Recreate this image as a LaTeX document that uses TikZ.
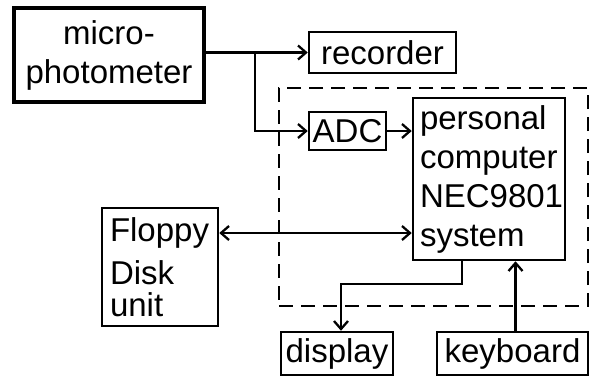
\documentclass[tikz,border=0pt]{standalone}
\usepackage{fontspec}
\setmainfont{Liberation Sans}
\usetikzlibrary{positioning}
\usetikzlibrary{calc}
\usetikzlibrary{arrows.meta}

\tikzset{
  blk/.style={draw, line width=2.5pt, inner sep=0pt, font=\fontsize{33}{39}\selectfont},
}

\begin{document}
\begin{tikzpicture}[x=1pt, y=-1pt, line width=2.3pt,
                    >={Straight Barb[length=8pt, width=14pt]}]
    \useasboundingbox (0,0) rectangle (596,376);

    \node [blk, line width=4.3pt, minimum width=190pt, minimum height=94pt, align=center] (mp) at (109,55) {micro-\\photometer};
    \node [blk, minimum width=147pt, minimum height=41pt] (rec) at (382.5,52.5) {recorder};
    \node [draw, line width=2.6pt, dash pattern=on 14pt off 8pt, minimum width=309pt, minimum height=218pt] (sys) at (433.5,197) { };
    \node [blk, minimum width=77pt, minimum height=38pt] (adc) at (347.5,131) {ADC};
    \node [blk, inner xsep=7pt, text width=138pt, minimum height=162pt, align=left] (pc) at (489,179) {personal\\computer\\NEC9801\\system};
    \node [blk, inner xsep=8pt, text width=100pt, minimum height=118pt, align=left, font=\fontsize{33}{33}\selectfont] (fd) at (160,267) {Floppy\\[10pt]Disk\\[-1pt]unit};
    \node [blk, minimum width=112pt, minimum height=43pt] (disp) at (337,353.5) {display};
    \node [blk, minimum width=151pt, minimum height=43pt] (kb) at (512.5,353.5) {keyboard};

    \coordinate (br) at (255,0 |- rec.west);
    \draw [->] (mp.east |- rec.west) -- (rec.west);
    \draw [->] (br) |- (adc.west);
    \draw [->] (adc.east) -- (adc.east -| pc.west);
    \draw [<->] ([yshift=34pt]fd.east) -- ([yshift=34pt]fd.east -| pc.west);
    \draw [->] ([xshift=-27pt]pc.south) -- ++(0,-23pt) -| ([xshift=4pt]disp.north);
    \draw [->] ([xshift=3pt]kb.north) -- ([xshift=3pt]kb.north |- pc.south);
\end{tikzpicture}
\end{document}
